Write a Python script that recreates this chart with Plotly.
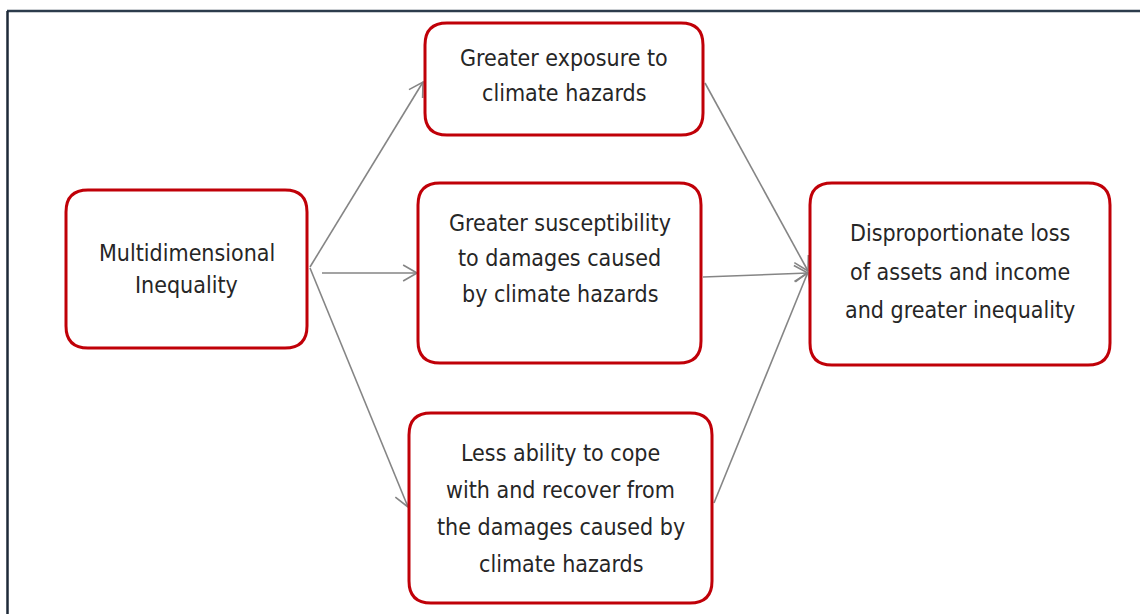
import numpy as np
import plotly.graph_objects as go

W, H = 1140, 614

# ---- content ----
node_labels = [
    ["Multidimensional", "Inequality"],
    ["Greater exposure to", "climate hazards"],
    ["Greater susceptibility", "to damages caused", "by climate hazards"],
    ["Less ability to cope", "with and recover from", "the damages caused by", "climate hazards"],
    ["Disproportionate loss", "of assets and income", "and greater inequality"],
]
edges_from = [0, 0, 0, 1, 2, 3]
edges_to = [1, 2, 3, 4, 4, 4]

# ---- layout (pixel space) ----
box_x0 = [66, 425, 418, 409, 810]
box_x1 = [307, 703, 701, 712, 1110]
box_y0 = [190, 23, 183, 413, 183]
box_y1 = [348, 135, 363, 603, 365]
text_dy = [0, -4, -15, 0, -2.5]
line_gap = [32, 35, 35.5, 37, 38.5]
edge_start_dx = [3, 15, 3, 2, 2, 2]
edge_start_dy = [-2, 4, -1, 4, 4, -5]
edge_end_dx = [-2, -1, -1, -2, -2, -2]
edge_end_dy = [3, 0, -1, -3, -1, -2]

RED = "#c00008"
GREY = "#858585"
TXT = "#262626"
FONT = "DejaVu Sans Condensed, Roboto, sans-serif"

fig = go.Figure()

def rounded_path(x0, y0, x1, y1, r):
    return (f"M{x0+r},{y0} L{x1-r},{y0} Q{x1},{y0} {x1},{y0+r} "
            f"L{x1},{y1-r} Q{x1},{y1} {x1-r},{y1} L{x0+r},{y1} "
            f"Q{x0},{y1} {x0},{y1-r} L{x0},{y0+r} Q{x0},{y0} {x0+r},{y0} Z")

shapes = []
for i in range(len(node_labels)):
    shapes.append(dict(type="path", xref="x", yref="y",
                       path=rounded_path(box_x0[i], box_y0[i], box_x1[i], box_y1[i], 22),
                       line=dict(color=RED, width=3), fillcolor="white", layer="above"))

# frame lines
shapes.append(dict(type="line", xref="x", yref="y", x0=7, x1=W, y0=11, y1=11,
                   line=dict(color="#2c3c4c", width=2.5)))
shapes.append(dict(type="line", xref="x", yref="y", x0=7.5, x1=7.5, y0=11, y1=H,
                   line=dict(color="#1e2a38", width=2.5)))

# arrows
head_len, head_ang = 16, np.deg2rad(30)
for k, (s, t) in enumerate(zip(edges_from, edges_to)):
    sx = box_x1[s] + edge_start_dx[k]
    sy = (box_y0[s] + box_y1[s]) / 2 + edge_start_dy[k]
    ex = box_x0[t] + edge_end_dx[k]
    ey = (box_y0[t] + box_y1[t]) / 2 + edge_end_dy[k]
    ang = np.arctan2(ey - sy, ex - sx)
    a1 = ang + np.pi - head_ang
    a2 = ang + np.pi + head_ang
    xs = [sx, ex, None, ex + head_len * np.cos(a1), ex, ex + head_len * np.cos(a2)]
    ys = [sy, ey, None, ey + head_len * np.sin(a1), ey, ey + head_len * np.sin(a2)]
    fig.add_trace(go.Scatter(x=xs, y=ys, mode="lines",
                             line=dict(color=GREY, width=1.6),
                             hoverinfo="skip", showlegend=False))

annotations = []
for i, lines in enumerate(node_labels):
    cx = (box_x0[i] + box_x1[i]) / 2
    cy = (box_y0[i] + box_y1[i]) / 2 + text_dy[i]
    n = len(lines)
    for j, ln in enumerate(lines):
        y = cy + (j - (n - 1) / 2) * line_gap[i]
        annotations.append(dict(x=cx, y=y, xref="x", yref="y", text=ln,
                                showarrow=False, xanchor="center", yanchor="middle",
                                font=dict(family=FONT, size=23, color=TXT)))

fig.update_layout(
    width=W, height=H,
    margin=dict(l=0, r=0, t=0, b=0),
    paper_bgcolor="white", plot_bgcolor="white",
    xaxis=dict(range=[0, W], visible=False, fixedrange=True),
    yaxis=dict(range=[H, 0], visible=False, fixedrange=True),
    shapes=shapes, annotations=annotations,
    showlegend=False,
)

fig.write_html("out.html", config={"displayModeBar": False},
               post_script="document.body.style.margin='0';document.body.style.overflow='hidden';")
